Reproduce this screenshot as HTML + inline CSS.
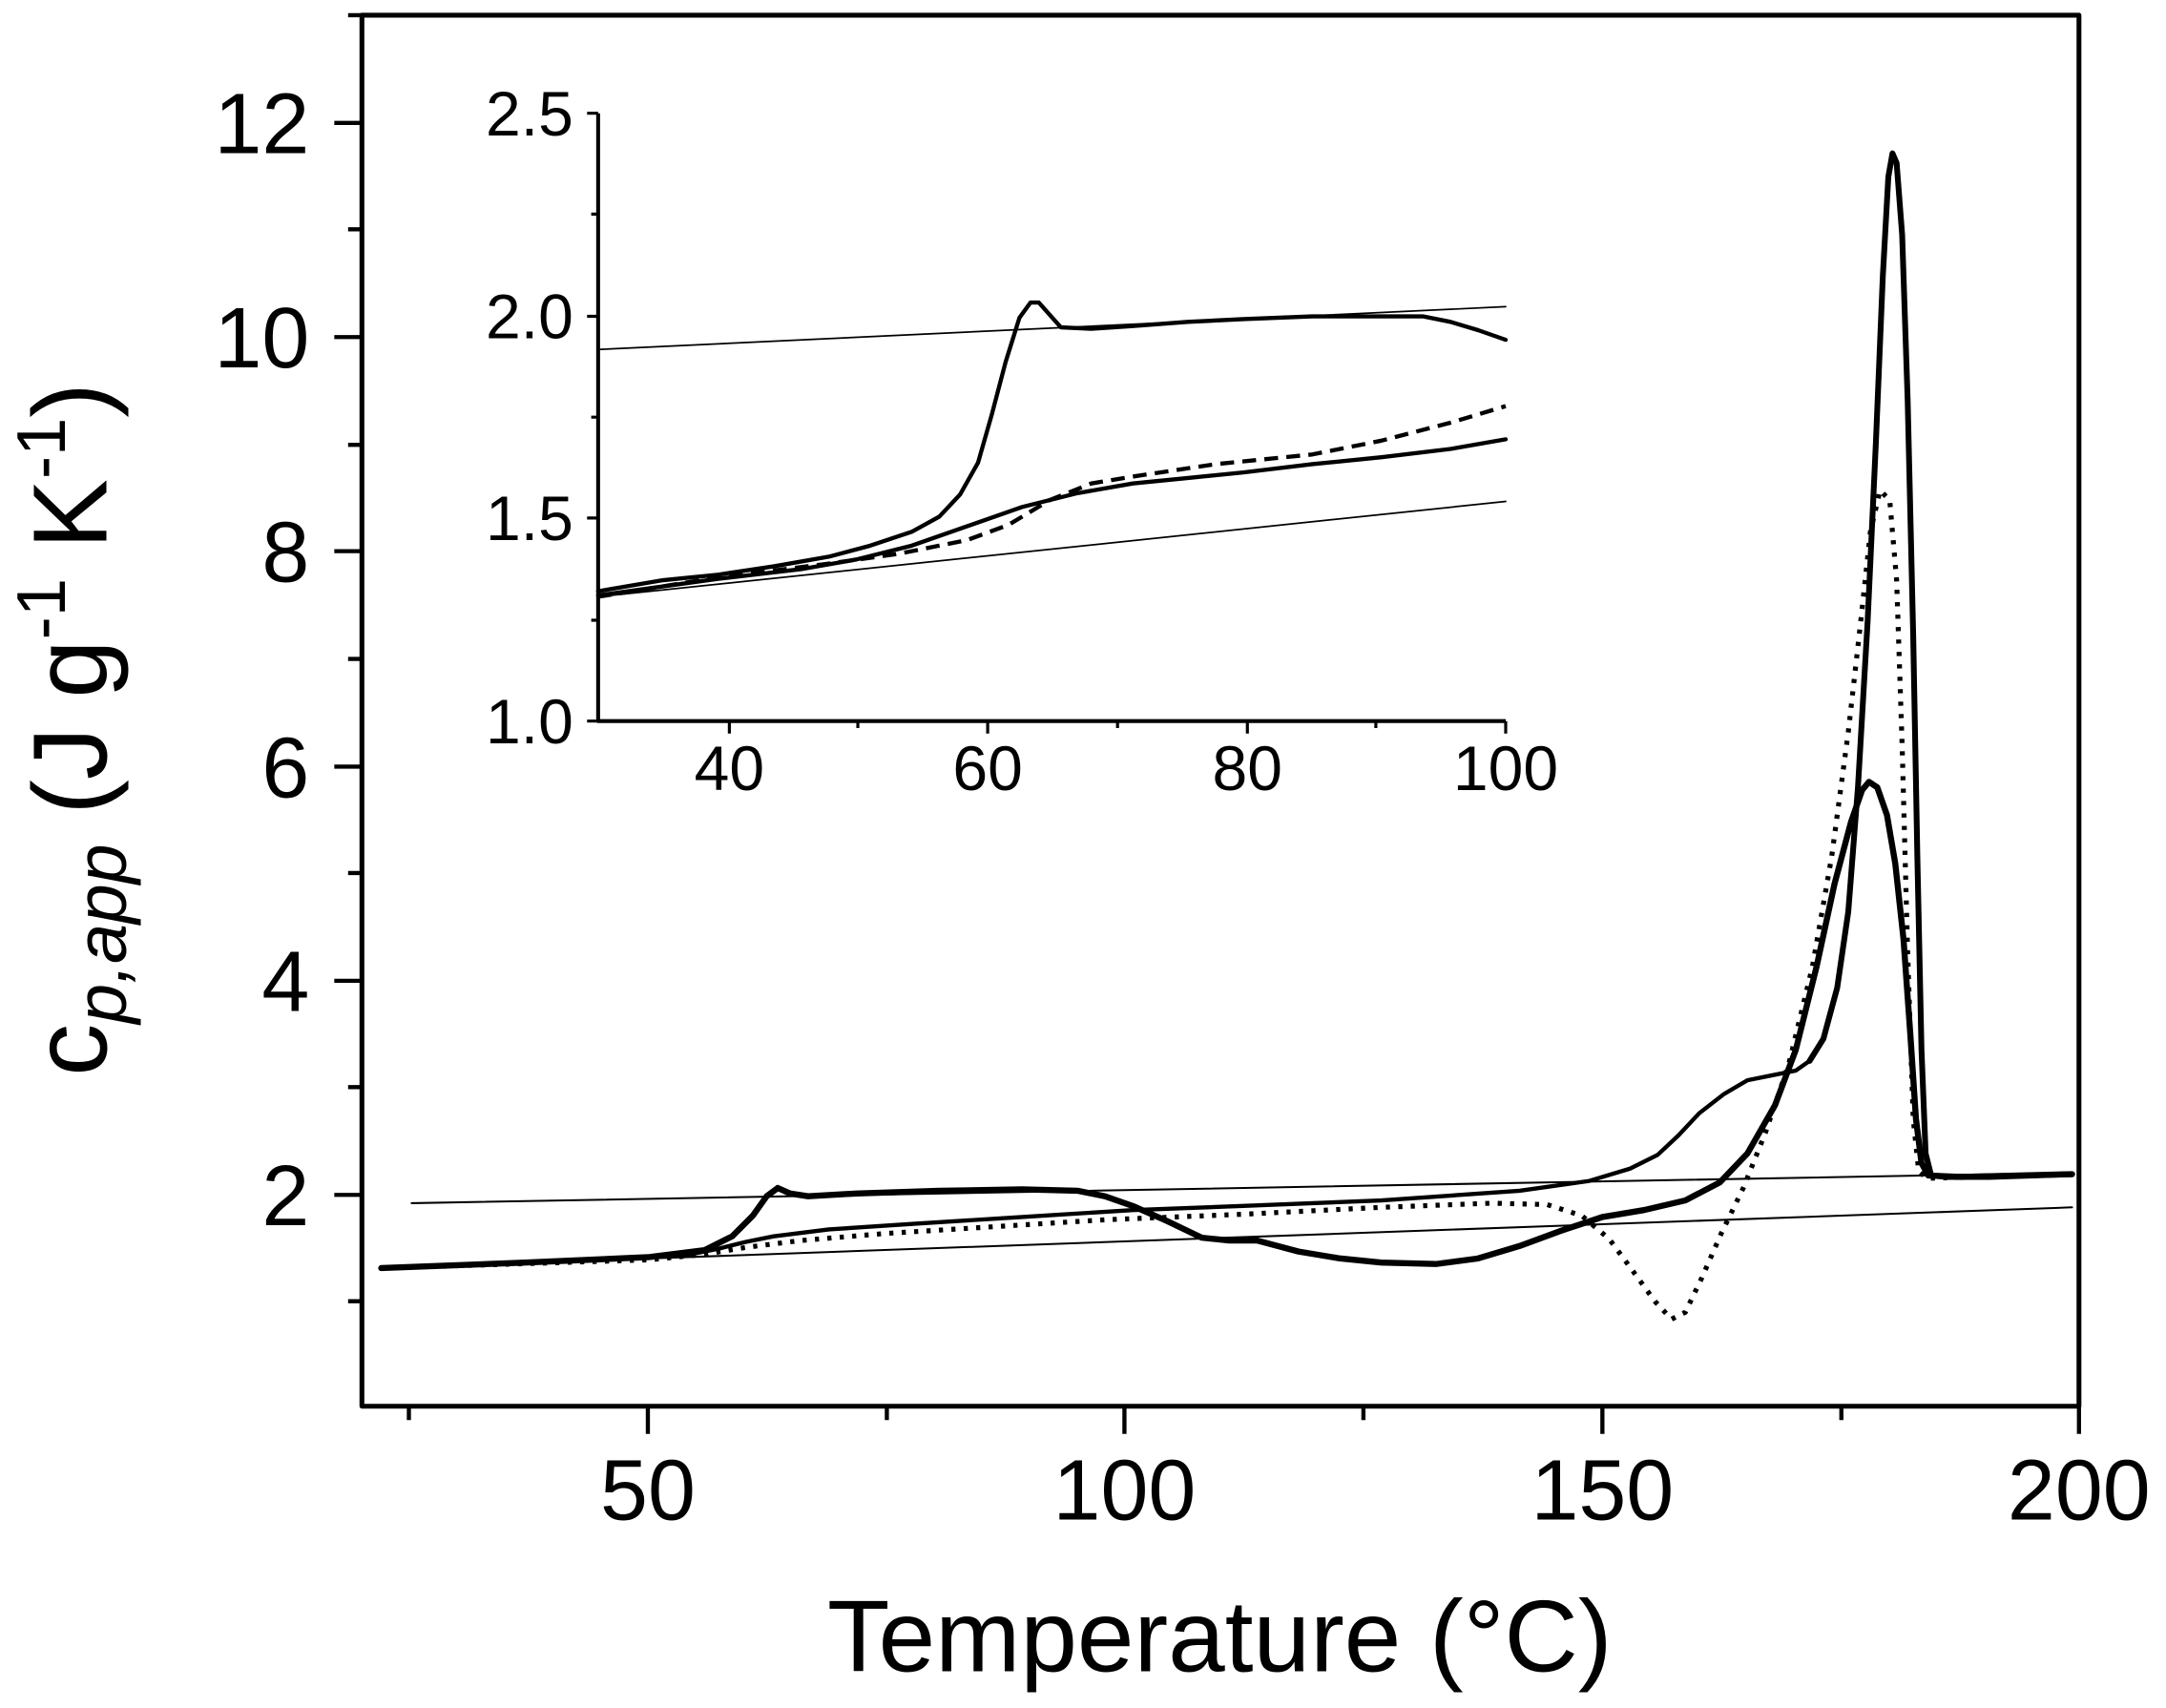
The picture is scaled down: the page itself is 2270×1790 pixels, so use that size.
<!DOCTYPE html>
<html><head><meta charset="utf-8"><style>html,body{margin:0;padding:0;background:#fff}svg{display:block}</style></head>
<body>
<svg width="2270" height="1790" viewBox="0 0 2270 1790" xmlns="http://www.w3.org/2000/svg">
<rect width="2270" height="1790" fill="#fff"/>
<g transform="scale(1.4477)" font-family="Liberation Sans, Arial, sans-serif" fill="none" stroke="#000" stroke-linejoin="round" stroke-linecap="round">
<rect x="262" y="11" width="1243" height="1007" stroke-width="3.5" stroke-linecap="butt"/>
<g stroke-width="3" stroke-linecap="butt">
<path d="M262 865h-20M262 710h-20M262 555h-20M262 399h-20M262 244h-20M262 89h-20"/>
<path d="M262 942h-10M262 787h-10M262 632h-10M262 477h-10M262 322h-10M262 166h-10M262 11h-10"/>
<path d="M469 1018v20M814 1018v20M1160 1018v20M1505 1018v20"/>
<path d="M296 1018v10M642 1018v10M987 1018v10M1333 1018v10"/>
</g>
<g fill="#000" stroke="none" font-size="62" text-anchor="end">
<text x="224" y="887">2</text><text x="224" y="732">4</text><text x="224" y="577">6</text>
<text x="224" y="421">8</text><text x="224" y="266">10</text><text x="224" y="111">12</text>
</g>
<g fill="#000" stroke="none" font-size="62" text-anchor="middle">
<text x="469" y="1100">50</text><text x="814" y="1100">100</text><text x="1160" y="1100">150</text><text x="1505" y="1100">200</text>
<text x="883" y="1210" font-size="74">Temperature (°C)</text>
<text transform="translate(77,528) rotate(-90)" font-size="76">c<tspan font-style="italic" font-size="52" dy="14">p,app</tspan><tspan dy="-14"> (J g</tspan><tspan font-size="50" dy="-30">-1</tspan><tspan dy="30"> K</tspan><tspan font-size="50" dy="-30">-1</tspan><tspan dy="30">)</tspan></text>
</g>
<path d="M298 871L1500 849" stroke-width="1.4"/>
<path d="M276 918L1500 874" stroke-width="1.4"/>
<path stroke-width="4.4" d="M276 918L380 914L470 910L510 905L530 895L545 880L555 866L563 860L572 864L585 866L620 864L680 862L740 861L780 862L800 866L820 873L845 884L870 896L890 898L910 898L940 906L970 911L1000 914L1040 915L1070 911L1100 902L1130 891L1160 881L1190 876L1220 869L1245 856L1265 835L1285 800L1300 760L1315 700L1328 640L1340 595L1348 572L1353 566L1359 570L1366 590L1372 625L1378 680L1383 750L1387 810L1391 842L1396 851L1420 852L1500 850"/>
<path stroke-width="3" d="M276 918L400 913L470 910L500 908L520 904L540 899L560 895L600 890L660 886L740 881L820 876L900 873L1000 869L1100 862L1150 855L1180 846L1200 836L1215 822L1230 806L1248 792L1265 782L1285 778L1300 775L1310 768"/>
<path stroke-width="4.2" d="M1310 768L1320 752L1330 715L1338 660L1345 570L1352 450L1358 320L1363 200L1367 128L1370 111L1373 118L1377 170L1381 290L1385 460L1388 620L1391 760L1394 835L1398 851L1410 852L1440 852L1500 850"/>
<path stroke-width="3.6" stroke-dasharray="3 6" stroke-linecap="butt" d="M276 918L470 912L510 908L540 903L580 898L640 893L720 888L800 883L900 879L1000 874L1080 871L1120 872L1145 880L1165 897L1182 920L1198 942L1210 955L1220 950L1232 925L1246 893L1262 860L1278 820L1295 770L1312 700L1326 620L1338 530L1347 450L1354 385L1361 355L1368 362L1373 420L1377 540L1381 690L1385 810L1389 848L1395 853L1500 850"/>
<path d="M433 82V522H1090" stroke-width="2.8" stroke-linecap="butt"/>
<g stroke-width="2.2" stroke-linecap="butt">
<path d="M433 82h-8M433 229h-8M433 375h-8M433 522h-8"/>
<path d="M433 155h-5M433 302h-5M433 449h-5"/>
<path d="M528 522v9M715 522v9M903 522v9M1090 522v9"/>
<path d="M621 522v5M809 522v5M996 522v5"/>
</g>
<g fill="#000" stroke="none" font-size="45.6" text-anchor="end">
<text x="415" y="98">2.5</text><text x="415" y="245">2.0</text><text x="415" y="391">1.5</text><text x="415" y="538">1.0</text>
</g>
<g fill="#000" stroke="none" font-size="45.6" text-anchor="middle">
<text x="528" y="572">40</text><text x="715" y="572">60</text><text x="903" y="572">80</text><text x="1090" y="572">100</text>
</g>
<path d="M433 253L1090 222" stroke-width="1.2"/>
<path d="M433 432L1090 363" stroke-width="1.2"/>
<path stroke-width="3" d="M433 428L480 420L520 416L560 410L600 403L630 395L660 385L680 374L695 358L708 335L718 300L728 262L738 230L746 219L752 219L760 228L768 237L790 238L820 236L860 233L900 231L950 229L1000 229L1030 229L1050 233L1070 239L1090 246"/>
<path stroke-width="3" d="M433 431L520 419L580 412L620 405L660 395L700 381L740 367L780 357L820 350L860 346L900 342L950 336L1000 331L1050 325L1090 318"/>
<path stroke-width="3" stroke-dasharray="10 6" stroke-linecap="butt" d="M433 432L520 418L600 408L650 401L700 391L730 380L760 362L790 350L820 345L880 336L950 329L1000 319L1050 306L1090 294"/>
</g>
</svg>
</body></html>
